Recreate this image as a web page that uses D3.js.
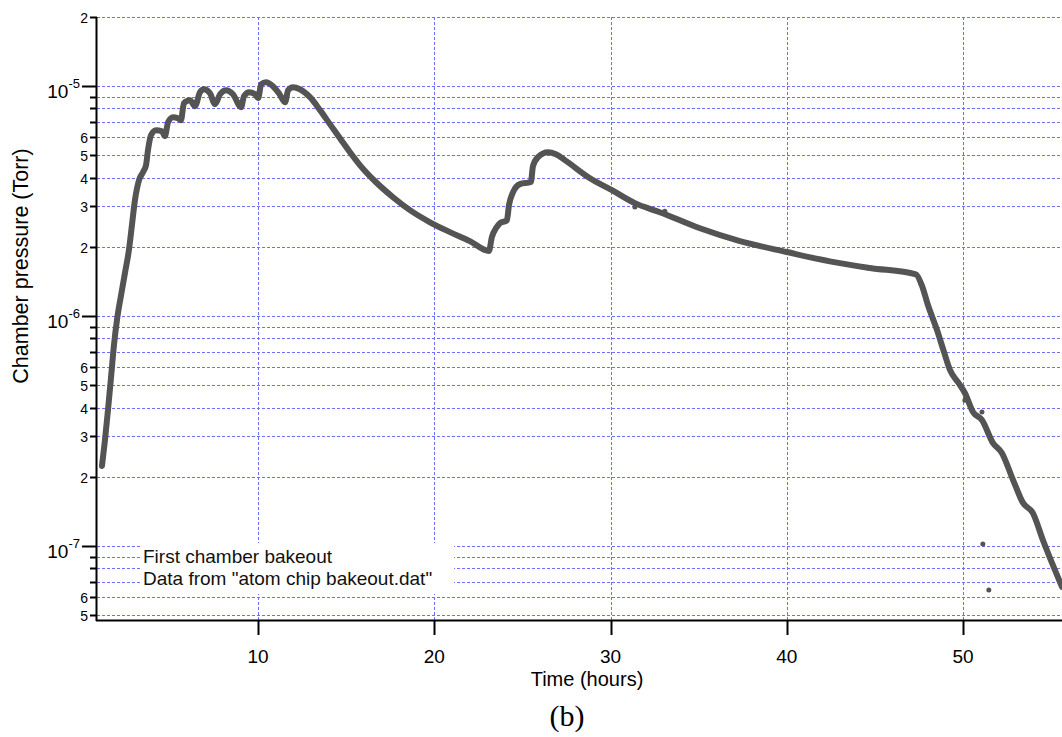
<!DOCTYPE html>
<html>
<head>
<meta charset="utf-8">
<script src="https://cdn.jsdelivr.net/npm/d3@7"></script>
<style>
  html, body { margin: 0; padding: 0; background: #fff; }
  svg { display: block; font-family: "Liberation Sans", Arial, sans-serif; }
</style>
</head>
<body>
<svg id="chart" width="1062" height="737"></svg>
<script>
"use strict";
// Chamber bakeout pressure log

var times = [1.15, 1.32, 1.49, 1.66, 1.83, 2.00, 2.23, 2.46, 2.68, 2.85, 3.02, 3.25, 3.48, 3.65, 3.76, 3.93,
    4.21, 4.55, 4.72, 4.90, 5.18, 5.46, 5.63, 5.80, 6.14, 6.43, 6.71, 6.94, 7.28, 7.56, 7.85, 8.19, 8.58,
    9.04, 9.21, 9.50, 9.84, 10.01, 10.18, 10.45, 10.85, 11.19, 11.54, 11.71, 11.99, 12.38, 12.95, 13.52,
    14.08, 14.65, 15.22, 15.78, 16.64, 17.66, 18.62, 19.76, 20.89, 22.02, 23.10, 23.27, 23.50, 23.73,
    24.12, 24.24, 24.47, 24.86, 25.48, 25.60, 25.88, 26.45, 26.90, 27.41, 28.83, 30.08, 31.38, 32.80,
    35.07, 37.34, 40.00, 42.44, 44.71, 47.32, 47.66, 48.00, 48.52, 48.92, 49.26, 49.71, 50.10, 50.56,
    51.07, 51.69, 52.20, 52.83, 53.40, 53.96, 54.53, 55.61];
var pressures = [2.23e-7, 2.89e-7, 3.90e-7, 5.37e-7, 7.48e-7, 9.61e-7, 1.23e-6, 1.55e-6, 1.94e-6, 2.49e-6,
    3.19e-6, 3.90e-6, 4.23e-6, 4.54e-6, 5.27e-6, 6.12e-6, 6.44e-6, 6.37e-6, 6.06e-6, 6.97e-6, 7.33e-6,
    7.26e-6, 7.11e-6, 8.44e-6, 8.69e-6, 8.19e-6, 9.42e-6, 9.70e-6, 9.32e-6, 8.35e-6, 9.23e-6, 9.61e-6,
    9.23e-6, 8.11e-6, 9.05e-6, 9.42e-6, 9.23e-6, 8.87e-6, 1.02e-5, 1.04e-5, 1.00e-5, 9.32e-6, 8.52e-6,
    9.61e-6, 9.90e-6, 9.70e-6, 8.96e-6, 7.87e-6, 6.84e-6, 5.94e-6, 5.16e-6, 4.54e-6, 3.86e-6, 3.29e-6,
    2.89e-6, 2.56e-6, 2.32e-6, 2.12e-6, 1.92e-6, 2.21e-6, 2.41e-6, 2.54e-6, 2.61e-6, 3.04e-6, 3.46e-6,
    3.75e-6, 3.83e-6, 4.49e-6, 4.91e-6, 5.16e-6, 5.06e-6, 4.77e-6, 3.98e-6, 3.53e-6, 3.10e-6, 2.83e-6,
    2.41e-6, 2.12e-6, 1.90e-6, 1.73e-6, 1.62e-6, 1.52e-6, 1.36e-6, 1.12e-6, 8.70e-7, 6.97e-7, 5.82e-7,
    5.16e-7, 4.63e-7, 3.83e-7, 3.53e-7, 2.81e-7, 2.54e-7, 1.94e-7, 1.54e-7, 1.39e-7, 1.06e-7, 6.64e-8];

// stray readings that sit off the curve
var strayTimes = [31.38, 33.08, 50.10, 51.07, 51.12, 51.46];
var strayPressures = [2.98e-6, 2.86e-6, 4.31e-7, 3.83e-7, 1.02e-7, 6.44e-8];

var xTicks = [10, 20, 30, 40, 50];
var yTicks = [2e-5, 1e-5, 9e-6, 8e-6, 7e-6, 6e-6, 5e-6, 4e-6, 3e-6, 2e-6,
    1e-6, 9e-7, 8e-7, 7e-7, 6e-7, 5e-7, 4e-7, 3e-7, 2e-7,
    1e-7, 9e-8, 8e-8, 7e-8, 6e-8, 5e-8];
var yTickLabels = ["2", "10^-5", "", "", "", "6", "5", "4", "3", "2",
    "10^-6", "", "", "", "6", "5", "4", "3", "2",
    "10^-7", "", "", "", "6", "5"];

var legendLines = ["First chamber bakeout", "Data from \"atom chip bakeout.dat\""];

var plotLeft = 97, plotRight = 1062, plotTop = 17, plotBottom = 620;
var gridColor = "#6f6fff";
var inkColor = "#545454";

var svg = d3.select("#chart");

var x = d3.scaleLinear().domain([0.868, 55.61]).range([plotLeft, plotRight]);
var y = d3.scaleLog().domain([4.767e-8, 2e-5]).range([plotBottom, plotTop]);

svg.append("defs").append("clipPath")
    .attr("id", "plot-clip")
    .append("rect")
    .attr("x", plotLeft).attr("y", plotTop - 5)
    .attr("width", plotRight - plotLeft).attr("height", plotBottom - plotTop + 5);

// dashed grid
var grid = svg.append("g").attr("class", "grid");
grid.selectAll("line.h")
    .data(yTicks)
    .enter().append("line")
    .attr("class", "h")
    .attr("x1", plotLeft).attr("x2", plotRight)
    .attr("y1", function (d) { return Math.round(y(d)) + 0.5; })
    .attr("y2", function (d) { return Math.round(y(d)) + 0.5; })
    .style("stroke", gridColor)
    .style("stroke-width", 1)
    .style("stroke-dasharray", "3,2");
grid.selectAll("line.v")
    .data(xTicks)
    .enter().append("line")
    .attr("class", "v")
    .attr("x1", function (d) { return Math.round(x(d)) + 0.5; })
    .attr("x2", function (d) { return Math.round(x(d)) + 0.5; })
    .attr("y1", plotTop).attr("y2", plotBottom)
    .style("stroke", gridColor)
    .style("stroke-width", 1)
    .style("stroke-dasharray", "3,2");

// legend box hides the grid behind it
var legend = svg.append("g").attr("class", "legend");
legend.append("rect")
    .attr("x", 142).attr("y", 543)
    .attr("width", 312).attr("height", 51)
    .style("fill", "#fff");
legend.selectAll("text")
    .data(legendLines)
    .enter().append("text")
    .attr("x", 143)
    .attr("y", function (d, i) { return 563 + i * 22; })
    .style("font-size", "19px")
    .style("fill", "#111")
    .text(function (d) { return d; });

// data
var plot = svg.append("g").attr("clip-path", "url(#plot-clip)");
var points = d3.zip(times, pressures);
var line = d3.line()
    .x(function (d) { return x(d[0]); })
    .y(function (d) { return y(d[1]); })
    .curve(d3.curveMonotoneX);
plot.append("path")
    .datum(points)
    .attr("d", line)
    .style("fill", "none")
    .style("stroke", inkColor)
    .style("stroke-width", 6)
    .style("stroke-linejoin", "round")
    .style("stroke-linecap", "round");
plot.selectAll("circle")
    .data(d3.zip(strayTimes, strayPressures))
    .enter().append("circle")
    .attr("cx", function (d) { return x(d[0]); })
    .attr("cy", function (d) { return y(d[1]); })
    .attr("r", 2.5)
    .style("fill", inkColor);

// x axis
var xAxis = svg.append("g").attr("class", "x-axis");
xAxis.append("line")
    .attr("x1", plotLeft - 1).attr("x2", plotRight)
    .attr("y1", plotBottom + 0.5).attr("y2", plotBottom + 0.5)
    .style("stroke", "#000").style("stroke-width", 2);
xAxis.selectAll("line.tick")
    .data(xTicks)
    .enter().append("line")
    .attr("class", "tick")
    .attr("x1", function (d) { return Math.round(x(d)) + 0.5; })
    .attr("x2", function (d) { return Math.round(x(d)) + 0.5; })
    .attr("y1", plotBottom).attr("y2", plotBottom + 15)
    .style("stroke", "#000").style("stroke-width", 2);
xAxis.selectAll("text")
    .data(xTicks)
    .enter().append("text")
    .attr("x", function (d) { return x(d); })
    .attr("y", 663)
    .attr("text-anchor", "middle")
    .style("font-size", "19px")
    .text(function (d) { return d; });
svg.append("text")
    .attr("x", 587).attr("y", 686)
    .attr("text-anchor", "middle")
    .style("font-size", "20px")
    .text("Time (hours)");

// y axis
var yAxis = svg.append("g").attr("class", "y-axis");
yAxis.append("line")
    .attr("x1", plotLeft - 0.5).attr("x2", plotLeft - 0.5)
    .attr("y1", plotTop).attr("y2", plotBottom + 1)
    .style("stroke", "#000").style("stroke-width", 2);
yTicks.forEach(function (v, i) {
    var label = yTickLabels[i];
    var major = label.indexOf("^") >= 0;
    var ty = Math.round(y(v)) + 0.5;
    yAxis.append("line")
        .attr("x1", plotLeft - (major ? 15 : 7)).attr("x2", plotLeft)
        .attr("y1", ty).attr("y2", ty)
        .style("stroke", "#000").style("stroke-width", 2);
    if (major) {
        var parts = label.split("^");
        var t = yAxis.append("text")
            .attr("x", 80).attr("y", ty + 11)
            .attr("text-anchor", "end")
            .style("font-size", "19px");
        t.append("tspan").text(parts[0]);
        t.append("tspan")
            .attr("dy", -10)
            .style("font-size", "13px")
            .text(parts[1]);
    } else if (label !== "") {
        yAxis.append("text")
            .attr("x", 88).attr("y", ty + 5)
            .attr("text-anchor", "end")
            .style("font-size", "14px")
            .text(label);
    }
});
svg.append("text")
    .attr("transform", "translate(28,266) rotate(-90)")
    .attr("text-anchor", "middle")
    .style("font-size", "21.5px")
    .text("Chamber pressure (Torr)");

// figure caption
svg.append("text")
    .attr("x", 567).attr("y", 726)
    .attr("text-anchor", "middle")
    .style("font-family", "\"Liberation Serif\", \"DejaVu Serif\", serif")
    .style("font-size", "30px")
    .text("(b)");
</script>
</body>
</html>
